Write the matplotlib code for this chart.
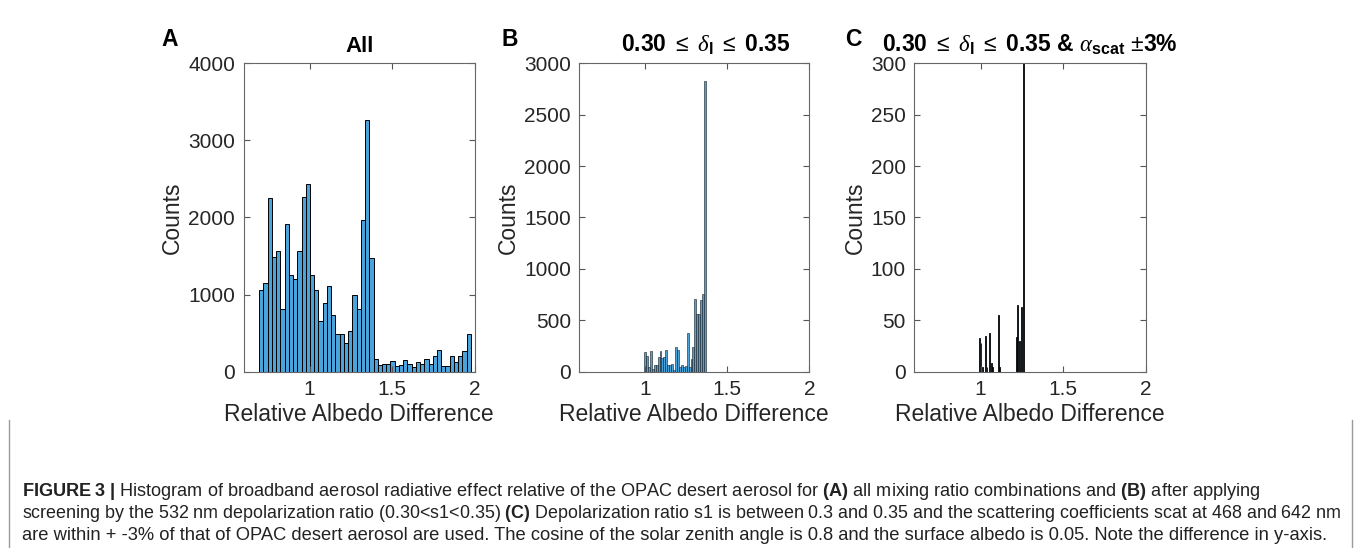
import numpy as np
import matplotlib
import matplotlib.pyplot as plt
from matplotlib import font_manager

W, H = 1355, 548

# panel A: histogram of all combinations (regular bins)
A_START = 0.695
A_BINW = 0.0256
A_COUNTS = [1060, 1156, 2250, 1490, 1570, 810, 1910, 1260, 1200, 1570,
            2260, 2440, 1250, 1060, 660, 890, 1110, 740, 490, 490,
            370, 530, 1000, 815, 1970, 3270, 1475, 170, 85, 105,
            95, 140, 80, 85, 150, 105, 65, 120, 105, 160,
            105, 200, 275, 80, 80, 210, 120, 200, 270, 485]

# panel B: screened by depolarization ratio
B_START = 0.994
B_BINW = 0.0118
B_COUNTS = [195, 150, 50, 205, 25, 70, 65, 145, 205, 130,
            140, 210, 65, 70, 78, 20, 237, 210, 50, 65,
            42, 58, 373, 50, 120, 243, 710, 562, 560, 700,
            760, 2830]

# panel C: depolarization + scattering screening
C_CENTERS = [0.994, 1.004, 1.012, 1.030, 1.040, 1.055, 1.065, 1.073,
             1.107, 1.115, 1.217, 1.223, 1.235, 1.247, 1.259]
C_COUNTS = [33, 28, 5, 35, 5, 38, 8, 5, 55, 5, 34, 65, 30, 63, 1000]
C_BINW = 0.004

XTICKS = [1, 1.5, 2]
XTICKLABELS = ['1', '1.5', '2']

CAPTION = [
    r'$\mathsf{FIGURE\ 3\ |}$ Histogram of broadband aerosol radiative effect relative of the OPAC desert aerosol for '
    r'$\mathsf{(A)}$ all mixing ratio combinations and $\mathsf{(B)}$ after applying',
    r'screening by the 532 nm depolarization ratio (0.30<s1<0.35) $\mathsf{(C)}$ Depolarization ratio s1 is between '
    r'0.3 and 0.35 and the scattering coefficients scat at 468 and 642 nm',
    r'are within + -3% of that of OPAC desert aerosol are used. The cosine of the solar zenith angle is 0.8 and the '
    r'surface albedo is 0.05. Note the difference in y-axis.',
]
CAPTION_SIZES = [13.06, 12.88, 13.22]

names = {f.name for f in font_manager.fontManager.ttflist}
narrow = 'Liberation Sans Narrow' if 'Liberation Sans Narrow' in names else 'Liberation Sans'

plt.rcParams['font.family'] = ['Liberation Sans', 'DejaVu Sans']
plt.rcParams['mathtext.fontset'] = 'custom'
plt.rcParams['mathtext.rm'] = 'Liberation Sans'
plt.rcParams['mathtext.it'] = 'Liberation Serif:italic'
plt.rcParams['mathtext.bf'] = 'Liberation Sans:bold'
plt.rcParams['mathtext.sf'] = narrow + ':bold'

BAR = '#4ba3dc'
TXT = '#262626'

fig = plt.figure(figsize=(W / 100, H / 100), dpi=100)


def px_axes(left, right, top, bottom):
    return fig.add_axes([left / W, 1 - bottom / H, (right - left) / W, (bottom - top) / H])


def style(ax, ymax, step):
    ax.set_xlim(0.6, 2)
    ax.set_ylim(0, ymax)
    ax.set_xticks(XTICKS)
    ax.set_xticklabels(XTICKLABELS)
    ax.set_yticks(np.arange(0, ymax + 1, step))
    ax.tick_params(direction='in', length=4, width=0.8, top=True, right=True,
                   labelsize=15, labelcolor=TXT, color='#555555', pad=6)
    for s in ax.spines.values():
        s.set_color('#666666')
        s.set_linewidth(0.8)
    ax.set_xlabel('Relative Albedo Difference', fontsize=16.5, color=TXT, labelpad=3)
    ax.set_ylabel('Counts', fontsize=16.5, color=TXT, labelpad=3)


axA = px_axes(243.5, 475, 63.3, 371.7)
a_edges = A_START + A_BINW * np.arange(len(A_COUNTS))
axA.bar(a_edges, A_COUNTS, width=A_BINW, align='edge', color=BAR, edgecolor='k', linewidth=0.7)
style(axA, 4000, 1000)
axA.set_title('All', fontsize=16, fontweight='bold', pad=8)

axB = px_axes(579.3, 809.3, 63.3, 371.7)
b_edges = B_START + B_BINW * np.arange(len(B_COUNTS))
axB.bar(b_edges, B_COUNTS, width=B_BINW, align='edge', color=BAR, edgecolor='#1a1a1a', linewidth=0.4)
style(axB, 3000, 500)
axB.set_title(r'0.30 $\leq$ $\delta_{\mathbf{l}}$ $\leq$ 0.35', fontsize=16.5, fontweight='bold', pad=8, x=0.55)

axC = px_axes(914.3, 1146, 63.3, 371.7)
axC.bar(C_CENTERS, C_COUNTS, width=C_BINW, color='#1f4e79', edgecolor='k', linewidth=0.6)
style(axC, 300, 50)
axC.set_title(r'0.30 $\leq$ $\delta_{\mathbf{l}}$ $\leq$ 0.35 & $\alpha_{\mathbf{scat}}$ $\pm$3%',
              fontsize=16.5, fontweight='bold', pad=8)

for letter, x in [('A', 170), ('B', 510), ('C', 853)]:
    fig.text(x / W, 1 - 39 / H, letter, fontsize=16.5, fontweight='bold', ha='center', va='center')

# caption
for i, line in enumerate(CAPTION):
    fig.text(22 / W, 1 - (491 + 22.5 * i) / H, line, fontsize=CAPTION_SIZES[i], family=[narrow, 'DejaVu Sans'],
             color='#222222', va='center', ha='left')

fig.add_artist(plt.Line2D([9 / W, 9 / W], [0, 1 - 420 / H], color='#9a9a9a', linewidth=1))
fig.add_artist(plt.Line2D([1352 / W, 1352 / W], [0, 1 - 420 / H], color='#9a9a9a', linewidth=1))

fig.savefig('out.png', dpi=100)
